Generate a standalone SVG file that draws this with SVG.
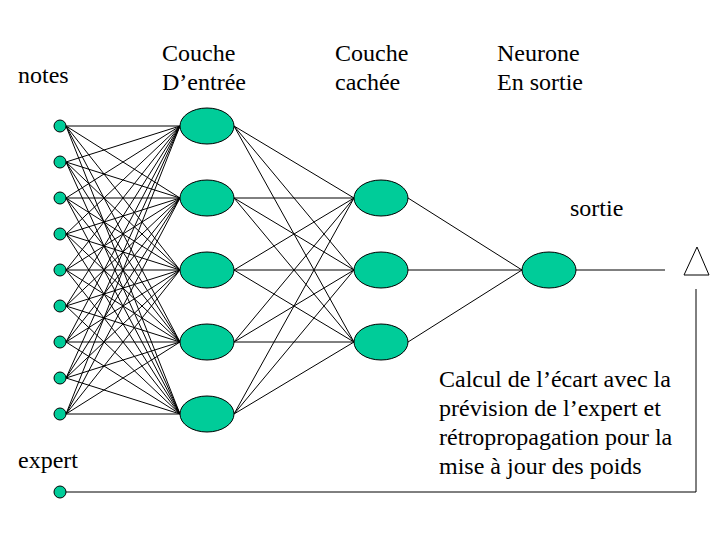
<svg xmlns="http://www.w3.org/2000/svg" width="720" height="540" viewBox="0 0 720 540">
<style>
.n{fill:#00CC99;stroke:#000;stroke-width:1}
.c line,.c polyline{stroke:#000;stroke-width:1;fill:none}
text{font-family:"Liberation Serif","Times New Roman",serif;font-size:24px;fill:#000}
</style>
<rect width="720" height="540" fill="#fff"/>
<g class="c" id="connectors">
<g id="in-h1">
<line x1="66" y1="126" x2="180" y2="126"/><line x1="66" y1="126" x2="180" y2="198"/><line x1="66" y1="126" x2="180" y2="270"/><line x1="66" y1="126" x2="180" y2="342"/><line x1="66" y1="126" x2="180" y2="414"/>
<line x1="66" y1="162" x2="180" y2="126"/><line x1="66" y1="162" x2="180" y2="198"/><line x1="66" y1="162" x2="180" y2="270"/><line x1="66" y1="162" x2="180" y2="342"/><line x1="66" y1="162" x2="180" y2="414"/>
<line x1="66" y1="198" x2="180" y2="126"/><line x1="66" y1="198" x2="180" y2="198"/><line x1="66" y1="198" x2="180" y2="270"/><line x1="66" y1="198" x2="180" y2="342"/><line x1="66" y1="198" x2="180" y2="414"/>
<line x1="66" y1="234" x2="180" y2="126"/><line x1="66" y1="234" x2="180" y2="198"/><line x1="66" y1="234" x2="180" y2="270"/><line x1="66" y1="234" x2="180" y2="342"/><line x1="66" y1="234" x2="180" y2="414"/>
<line x1="66" y1="270" x2="180" y2="126"/><line x1="66" y1="270" x2="180" y2="198"/><line x1="66" y1="270" x2="180" y2="270"/><line x1="66" y1="270" x2="180" y2="342"/><line x1="66" y1="270" x2="180" y2="414"/>
<line x1="66" y1="306" x2="180" y2="126"/><line x1="66" y1="306" x2="180" y2="198"/><line x1="66" y1="306" x2="180" y2="270"/><line x1="66" y1="306" x2="180" y2="342"/><line x1="66" y1="306" x2="180" y2="414"/>
<line x1="66" y1="342" x2="180" y2="126"/><line x1="66" y1="342" x2="180" y2="198"/><line x1="66" y1="342" x2="180" y2="270"/><line x1="66" y1="342" x2="180" y2="342"/><line x1="66" y1="342" x2="180" y2="414"/>
<line x1="66" y1="378" x2="180" y2="126"/><line x1="66" y1="378" x2="180" y2="198"/><line x1="66" y1="378" x2="180" y2="270"/><line x1="66" y1="378" x2="180" y2="342"/><line x1="66" y1="378" x2="180" y2="414"/>
<line x1="66" y1="414" x2="180" y2="126"/><line x1="66" y1="414" x2="180" y2="198"/><line x1="66" y1="414" x2="180" y2="270"/><line x1="66" y1="414" x2="180" y2="342"/><line x1="66" y1="414" x2="180" y2="414"/>
</g>
<g id="h1-h2">
<line x1="234" y1="126" x2="354" y2="198"/><line x1="234" y1="126" x2="354" y2="270"/><line x1="234" y1="126" x2="354" y2="342"/>
<line x1="234" y1="198" x2="354" y2="198"/><line x1="234" y1="198" x2="354" y2="270"/><line x1="234" y1="198" x2="354" y2="342"/>
<line x1="234" y1="270" x2="354" y2="198"/><line x1="234" y1="270" x2="354" y2="270"/><line x1="234" y1="270" x2="354" y2="342"/>
<line x1="234" y1="342" x2="354" y2="198"/><line x1="234" y1="342" x2="354" y2="270"/><line x1="234" y1="342" x2="354" y2="342"/>
<line x1="234" y1="414" x2="354" y2="198"/><line x1="234" y1="414" x2="354" y2="270"/><line x1="234" y1="414" x2="354" y2="342"/>
</g>
<g id="h2-out">
<line x1="408" y1="198" x2="522" y2="270"/><line x1="408" y1="270" x2="522" y2="270"/><line x1="408" y1="342" x2="522" y2="270"/>
</g>
<line x1="576" y1="270" x2="665" y2="270"/>
<polyline points="66,492 696,492 696,289"/>
</g>
<g id="inputs">
<circle class="n" cx="60" cy="126" r="6"/><circle class="n" cx="60" cy="162" r="6"/><circle class="n" cx="60" cy="198" r="6"/>
<circle class="n" cx="60" cy="234" r="6"/><circle class="n" cx="60" cy="270" r="6"/><circle class="n" cx="60" cy="306" r="6"/>
<circle class="n" cx="60" cy="342" r="6"/><circle class="n" cx="60" cy="378" r="6"/><circle class="n" cx="60" cy="414" r="6"/>
</g>
<g id="expert-node"><circle class="n" cx="60" cy="492" r="6"/></g>
<g id="hidden1">
<ellipse class="n" cx="207" cy="126" rx="27" ry="18"/><ellipse class="n" cx="207" cy="198" rx="27" ry="18"/>
<ellipse class="n" cx="207" cy="270" rx="27" ry="18"/><ellipse class="n" cx="207" cy="342" rx="27" ry="18"/>
<ellipse class="n" cx="207" cy="414" rx="27" ry="18"/>
</g>
<g id="hidden2">
<ellipse class="n" cx="381" cy="198" rx="27" ry="18"/><ellipse class="n" cx="381" cy="270" rx="27" ry="18"/>
<ellipse class="n" cx="381" cy="342" rx="27" ry="18"/>
</g>
<g id="output"><ellipse class="n" cx="549" cy="270" rx="27" ry="18"/></g>
<g id="comparator"><polygon points="697,247 684,275 709,275" fill="#fff" stroke="#000" stroke-width="1"/></g>
<g id="labels">
<text x="18" y="83">notes</text>
<text x="162" y="61">Couche</text><text x="162" y="90">D’entrée</text>
<text x="335" y="61">Couche</text><text x="335" y="90">cachée</text>
<text x="497" y="61">Neurone</text><text x="497" y="90">En sortie</text>
<text x="570" y="216">sortie</text>
<text x="18" y="468">expert</text>
<text x="439" y="387">Calcul de l’écart avec la</text>
<text x="439" y="416">prévision de l’expert et</text>
<text x="439" y="445">rétropropagation pour la</text>
<text x="439" y="474">mise à jour des poids</text>
</g>
</svg>
